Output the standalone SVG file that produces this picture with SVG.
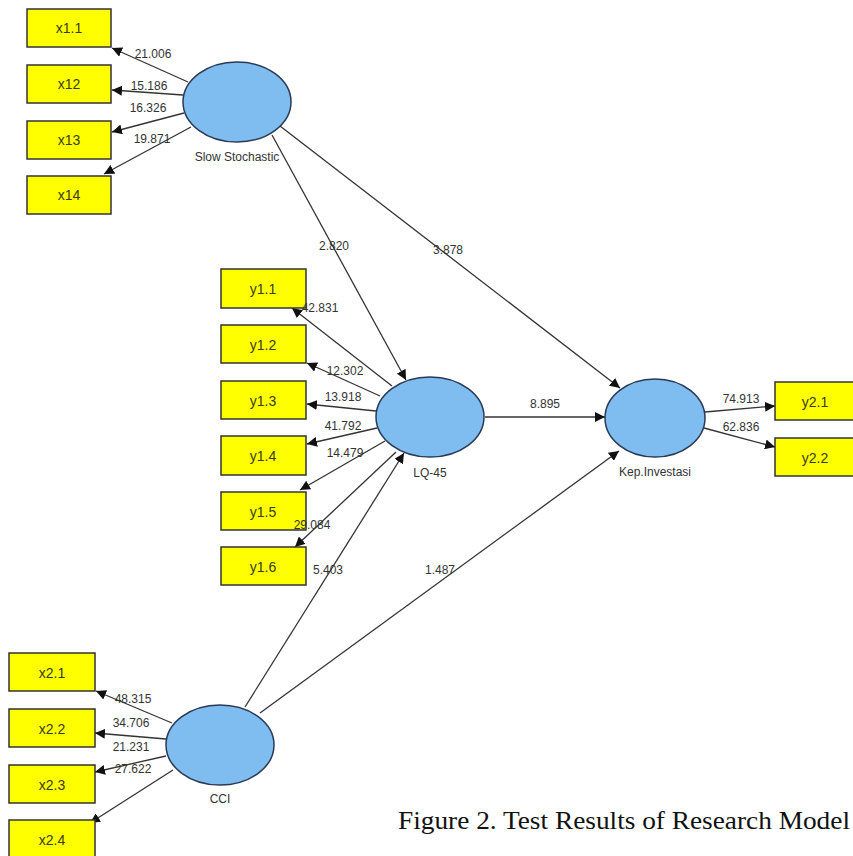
<svg xmlns="http://www.w3.org/2000/svg" width="853" height="856" viewBox="0 0 853 856">
<style>
.box{fill:#ffff00;stroke:#333;stroke-width:1.5}
.lv{fill:#7fbcf0;stroke:#2a3a55;stroke-width:1.5}
.bt{font-family:"Liberation Sans",Arial,sans-serif;font-size:14px;fill:#3a3a1a;text-anchor:middle}
.nt{font-family:"Liberation Sans",Arial,sans-serif;font-size:12px;fill:#333;text-anchor:middle}
.lb{font-family:"Liberation Sans",Arial,sans-serif;font-size:12px;fill:#333;text-anchor:middle}
.c line{stroke:#333;stroke-width:1.3;marker-end:url(#ah)}
.cap{font-family:"Liberation Serif","Times New Roman",serif;font-size:25px;fill:#111}
</style>
<defs>
<marker id="ah" viewBox="0 0 10 10" refX="10" refY="5" markerWidth="10" markerHeight="10" markerUnits="userSpaceOnUse" orient="auto">
<path d="M0,0 L10,5 L0,10 z" fill="#111"/>
</marker>
</defs>
<rect width="853" height="856" fill="#fff"/>
<g class="c" id="connectors">
<line x1="188" y1="82" x2="112" y2="48"/>
<line x1="183" y1="95" x2="112" y2="90"/>
<line x1="184" y1="113" x2="112" y2="132"/>
<line x1="191" y1="127" x2="104" y2="174"/>
<line x1="272" y1="135" x2="406" y2="380"/>
<line x1="280" y1="126" x2="620" y2="388"/>
<line x1="392" y1="386" x2="292" y2="308"/>
<line x1="380" y1="396" x2="307" y2="363"/>
<line x1="376" y1="411" x2="307" y2="404"/>
<line x1="377" y1="428" x2="307" y2="444"/>
<line x1="385" y1="441" x2="300" y2="490"/>
<line x1="396" y1="452" x2="295" y2="547"/>
<line x1="485" y1="417" x2="605" y2="417"/>
<line x1="705" y1="412" x2="775" y2="406"/>
<line x1="704" y1="428" x2="775" y2="447"/>
<line x1="245" y1="707" x2="404" y2="453"/>
<line x1="260" y1="713" x2="619" y2="451"/>
<line x1="172" y1="723" x2="96" y2="691"/>
<line x1="166" y1="739" x2="95" y2="733"/>
<line x1="166" y1="756" x2="95" y2="772"/>
<line x1="173" y1="770" x2="90" y2="823"/>
</g>
<g id="SlowStochastic"><ellipse class="lv" cx="237" cy="102" rx="54" ry="40"/><text class="nt" x="237" y="161">Slow Stochastic</text></g>
<g id="LQ45"><ellipse class="lv" cx="430" cy="417" rx="54" ry="40"/><text class="nt" x="430" y="477">LQ-45</text></g>
<g id="KepInvestasi"><ellipse class="lv" cx="655" cy="418" rx="50" ry="39"/><text class="nt" x="655" y="476">Kep.Investasi</text></g>
<g id="CCI"><ellipse class="lv" cx="220" cy="745" rx="54" ry="40"/><text class="nt" x="220" y="803">CCI</text></g>
<g id="x1_1"><rect class="box" x="27" y="9" width="84" height="38"/><text class="bt" x="69" y="33">x1.1</text></g>
<g id="x12"><rect class="box" x="27" y="65" width="84" height="38"/><text class="bt" x="69" y="89">x12</text></g>
<g id="x13"><rect class="box" x="27" y="121" width="84" height="38"/><text class="bt" x="69" y="145">x13</text></g>
<g id="x14"><rect class="box" x="27" y="176" width="84" height="38"/><text class="bt" x="69" y="200">x14</text></g>
<g id="y1_1"><rect class="box" x="221" y="269" width="85" height="39"/><text class="bt" x="263" y="294">y1.1</text></g>
<g id="y1_2"><rect class="box" x="221" y="325" width="85" height="38"/><text class="bt" x="263" y="350">y1.2</text></g>
<g id="y1_3"><rect class="box" x="221" y="381" width="85" height="38"/><text class="bt" x="263" y="406">y1.3</text></g>
<g id="y1_4"><rect class="box" x="221" y="436" width="85" height="39"/><text class="bt" x="263" y="461">y1.4</text></g>
<g id="y1_5"><rect class="box" x="221" y="492" width="85" height="38"/><text class="bt" x="263" y="517">y1.5</text></g>
<g id="y1_6"><rect class="box" x="221" y="547" width="85" height="38"/><text class="bt" x="263" y="572">y1.6</text></g>
<g id="y2_1"><rect class="box" x="775" y="382" width="80" height="38"/><text class="bt" x="815" y="407">y2.1</text></g>
<g id="y2_2"><rect class="box" x="775" y="438" width="80" height="38"/><text class="bt" x="815" y="463">y2.2</text></g>
<g id="x2_1"><rect class="box" x="9" y="653" width="86" height="38"/><text class="bt" x="52" y="678">x2.1</text></g>
<g id="x2_2"><rect class="box" x="9" y="709" width="86" height="38"/><text class="bt" x="52" y="734">x2.2</text></g>
<g id="x2_3"><rect class="box" x="9" y="765" width="86" height="38"/><text class="bt" x="52" y="790">x2.3</text></g>
<g id="x2_4"><rect class="box" x="9" y="820" width="86" height="40"/><text class="bt" x="52" y="845">x2.4</text></g>
<g class="lb" id="labels">
<text x="153" y="58">21.006</text>
<text x="149" y="90">15.186</text>
<text x="148" y="112">16.326</text>
<text x="152" y="143">19.871</text>
<text x="334" y="250">2.820</text>
<text x="448" y="254">3.878</text>
<text x="320" y="312">42.831</text>
<text x="345" y="375">12.302</text>
<text x="343" y="401">13.918</text>
<text x="343" y="430">41.792</text>
<text x="345" y="457">14.479</text>
<text x="312" y="529">29.084</text>
<text x="328" y="574">5.403</text>
<text x="440" y="574">1.487</text>
<text x="545" y="408">8.895</text>
<text x="741" y="403">74.913</text>
<text x="741" y="431">62.836</text>
<text x="133" y="703">48.315</text>
<text x="131" y="727">34.706</text>
<text x="131" y="751">21.231</text>
<text x="133" y="773">27.622</text>
</g>
<text class="cap" x="398" y="829" textLength="452" lengthAdjust="spacingAndGlyphs">Figure 2. Test Results of Research Model</text>
</svg>
